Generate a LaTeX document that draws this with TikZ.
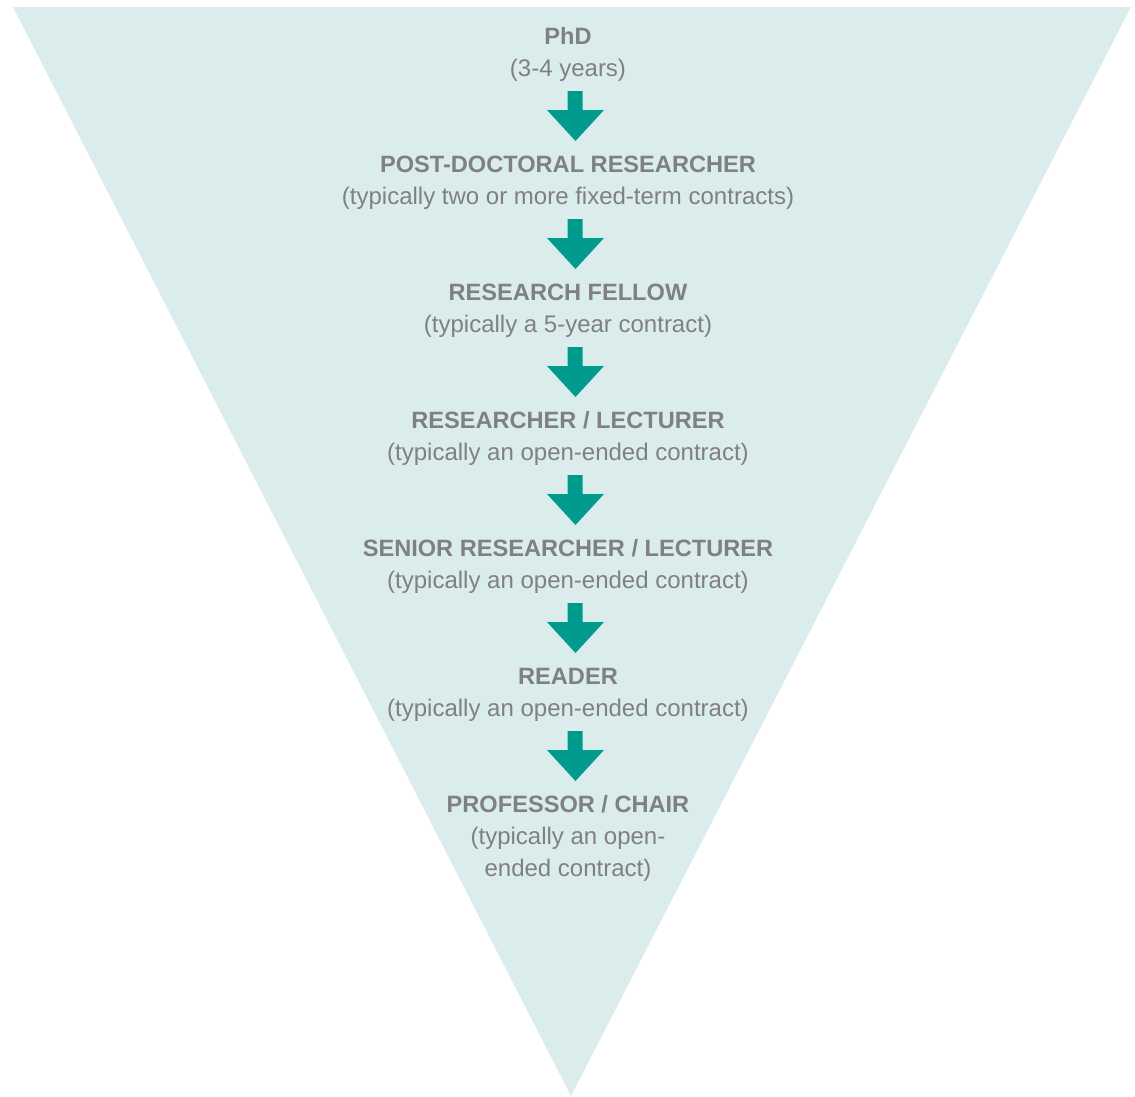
\documentclass[tikz,border=0pt]{standalone}
\usepackage{fontspec}
\setmainfont{Liberation Sans}
\definecolor{funnel}{RGB}{219,236,236}
\definecolor{teal}{RGB}{0,155,141}
\definecolor{txt}{RGB}{128,128,128}
\begin{document}
\begin{tikzpicture}[x=1pt,y=-1pt,
  title/.style={anchor=base,inner sep=0pt,text=txt,font=\fontsize{23.6}{32}\selectfont\bfseries},
  desc/.style={anchor=base,inner sep=0pt,text=txt,font=\fontsize{24}{32}\selectfont},
  arr/.style={fill=teal,draw=none}]
\useasboundingbox (0,0) rectangle (1135,1096);
\fill[funnel] (13,7) -- (1131,7) -- (571,1096) -- cycle;
\node[title] (t1) at (568,44) {PhD};
\node[desc]  (d1) at (568,76) {(3-4 years)};
\node[title] (t2) at (568,172) {POST-DOCTORAL RESEARCHER};
\node[desc]  (d2) at (568,204) {(typically two or more fixed-term contracts)};
\node[title] (t3) at (568,300) {RESEARCH FELLOW};
\node[desc]  (d3) at (568,332) {(typically a 5-year contract)};
\node[title] (t4) at (568,428) {RESEARCHER / LECTURER};
\node[desc]  (d4) at (568,460) {(typically an open-ended contract)};
\node[title] (t5) at (568,556) {SENIOR RESEARCHER / LECTURER};
\node[desc]  (d5) at (568,588) {(typically an open-ended contract)};
\node[title] (t6) at (568,684) {READER};
\node[desc]  (d6) at (568,716) {(typically an open-ended contract)};
\node[title] (t7) at (568,812) {PROFESSOR / CHAIR};
\node[desc]  (d7) at (568,844) {(typically an open-};
\node[desc]  (d7b) at (568,876) {ended contract)};
\foreach \y in {91,219,347,475,603,731}{
  \path[arr] (567.5,\y) -- (582.5,\y) -- (582.5,\y+19) -- (604,\y+19)
    -- (575.5,\y+50) -- (547,\y+19) -- (567.5,\y+19) -- cycle;
}
\end{tikzpicture}
\end{document}
